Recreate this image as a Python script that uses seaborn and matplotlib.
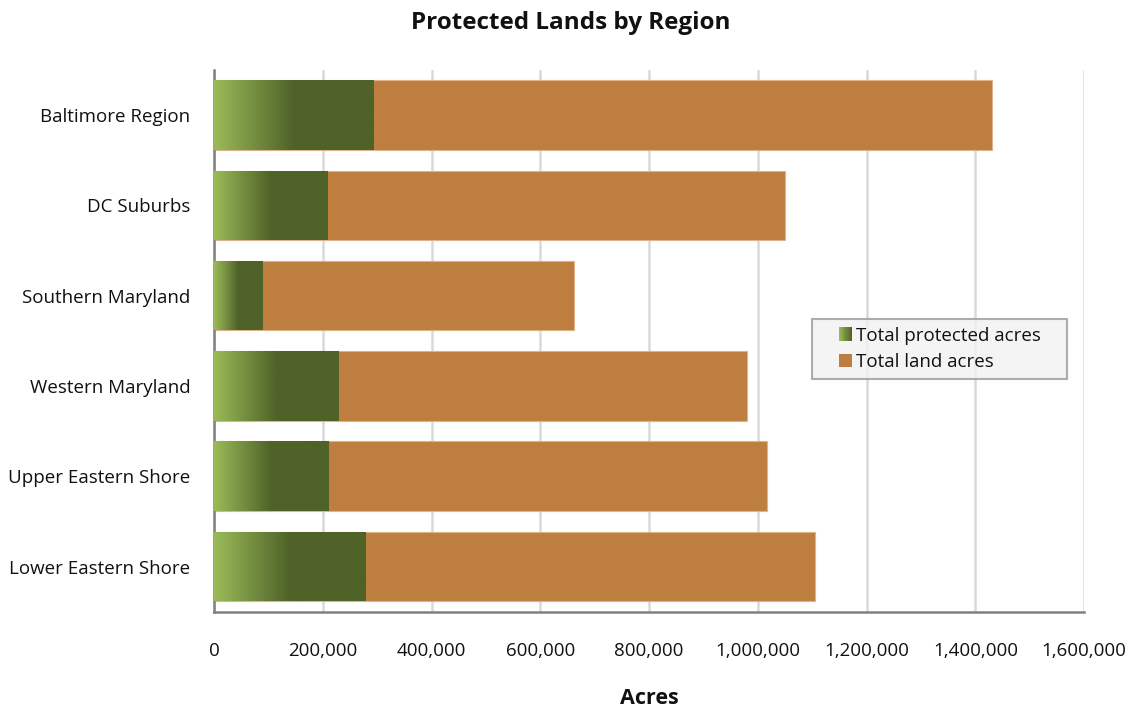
import numpy as np
import pandas as pd
import matplotlib
matplotlib.use("Agg")
import matplotlib.pyplot as plt
import seaborn as sns
from matplotlib.colors import LinearSegmentedColormap
from matplotlib.legend_handler import HandlerBase
from matplotlib.patches import Rectangle

regions = ["Baltimore Region", "DC Suburbs", "Southern Maryland",
           "Western Maryland", "Upper Eastern Shore", "Lower Eastern Shore"]
protected_acres = [294000, 208000, 90000, 229000, 211000, 279500]
total_land_acres = [1431000, 1050500, 662500, 979500, 1016000, 1105000]
x_ticks = [0, 200000, 400000, 600000, 800000, 1000000, 1200000, 1400000, 1600000]

LIGHT_GREEN = "#9BBB59"
DARK_GREEN = "#4F6228"
BROWN = "#BE7E40"
TEXT = "#111111"

df = pd.DataFrame({"region": regions,
                   "protected": protected_acres,
                   "total": total_land_acres})

sns.set_theme(style="white")
plt.rcParams["font.family"] = ["Open Sans", "DejaVu Sans"]

fig = plt.figure(figsize=(11.41, 7.12), dpi=100)
ax = fig.add_axes([0.1876, 0.1409, 0.7625, 0.7608])

sns.barplot(data=df, x="total", y="region", color=BROWN, width=0.77,
            saturation=1, ax=ax, edgecolor="#DDB48A", linewidth=0.8, zorder=2)
n_before = len(ax.patches)
sns.barplot(data=df, x="protected", y="region", color=DARK_GREEN, width=0.77,
            saturation=1, ax=ax, linewidth=0, zorder=3)

# gradient fill for the protected-acre bars: light to dark over the first half
grad_cmap = LinearSegmentedColormap.from_list(
    "green_grad", [(0.0, LIGHT_GREEN), (0.5, DARK_GREEN), (1.0, DARK_GREEN)])
grad = np.linspace(0, 1, 256).reshape(1, -1)
for patch in ax.patches[n_before:]:
    x0, y0 = patch.get_x(), patch.get_y()
    w, h = patch.get_width(), patch.get_height()
    im = ax.imshow(grad, cmap=grad_cmap, aspect="auto",
                   extent=(x0, x0 + w, y0 + h, y0), zorder=3,
                   interpolation="bilinear")
    im.set_clip_path(patch)
    patch.set_facecolor("none")

ax.set_xlim(0, 1600000)
ax.set_ylim(5.5, -0.5)
ax.set_xticks(x_ticks)
ax.set_xticklabels([f"{t:,}" for t in x_ticks], fontsize=13.5, color=TEXT)
ax.tick_params(axis="x", direction="out", length=6, width=1.2, color="#808080", pad=16)
ax.tick_params(axis="y", length=0, pad=17, labelsize=13.5, labelcolor=TEXT)

ax.xaxis.grid(True, color="#D9D9D9", linewidth=1.8, zorder=0)
ax.set_axisbelow(True)
for side in ["top", "right"]:
    ax.spines[side].set_visible(False)
for side in ["left", "bottom"]:
    ax.spines[side].set_color("#808080")
    ax.spines[side].set_linewidth(1.8)

ax.set_ylabel("")
ax.set_xlabel("Acres", fontsize=15.5, fontweight="bold", labelpad=20, color=TEXT)
fig.suptitle("Protected Lands by Region", fontsize=17.5, fontweight="bold",
             x=0.5, y=0.985, color=TEXT)


class GradientHandler(HandlerBase):
    def create_artists(self, legend, orig_handle, xdescent, ydescent,
                       width, height, fontsize, trans):
        side = 0.72 * fontsize
        x0 = xdescent + width - side
        y0 = -ydescent + (height - side) / 2
        steps = 12
        arts = []
        for i in range(steps):
            c = grad_cmap(0.5 * i / (steps - 1))
            arts.append(Rectangle((x0 + side * i / steps, y0), side / steps + 0.3,
                                  side, facecolor=c, edgecolor="none",
                                  transform=trans))
        return arts


class SquareHandler(HandlerBase):
    def create_artists(self, legend, orig_handle, xdescent, ydescent,
                       width, height, fontsize, trans):
        side = 0.72 * fontsize
        x0 = xdescent + width - side
        y0 = -ydescent + (height - side) / 2
        return [Rectangle((x0, y0), side, side, facecolor=BROWN,
                          edgecolor="none", transform=trans)]


h_green = Rectangle((0, 0), 1, 1)
h_brown = Rectangle((0, 0), 1, 1)
leg = ax.legend([h_green, h_brown], ["Total protected acres", "Total land acres"],
                handler_map={h_green: GradientHandler(), h_brown: SquareHandler()},
                loc="upper left", bbox_to_anchor=(0.687, 0.43, 0.293, 0.11),
                mode="expand",
                fontsize=13.5, frameon=True, fancybox=False,
                handlelength=1.75, handleheight=0.8, handletextpad=0.2,
                borderpad=0.4, labelspacing=0.45, borderaxespad=0)
for t in leg.get_texts():
    t.set_color(TEXT)
leg.get_frame().set_facecolor("#F2F2F2")
leg.get_frame().set_edgecolor("#9A9A9A")
leg.get_frame().set_linewidth(1.5)
leg.set_zorder(5)

fig.savefig("out.png", dpi=100)
